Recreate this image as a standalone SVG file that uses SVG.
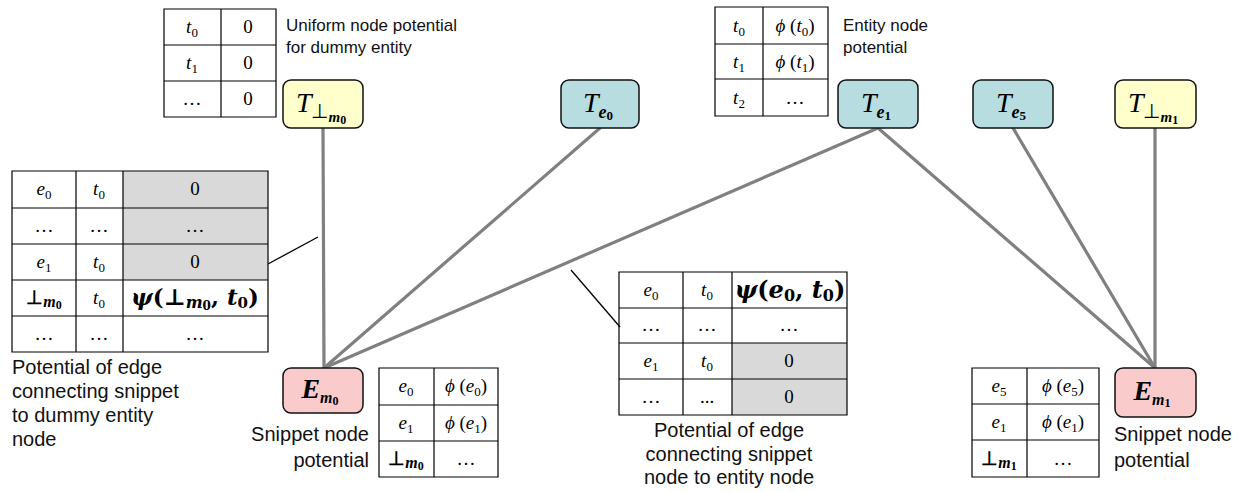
<svg xmlns="http://www.w3.org/2000/svg" width="1250" height="492" viewBox="0 0 1250 492">
<style>
.node{stroke:#111;stroke-width:1.5}
.yel{fill:#FFFFCC}.tea{fill:#B7DDE1}.pin{fill:#F9CBCB}
.grid{fill:none;stroke:#000;stroke-width:1.2}
.gray{fill:#D9D9D9;stroke:none}
.m{font-family:"Liberation Serif",serif;font-size:19px;text-anchor:middle}
.i{font-style:italic}
.b{font-weight:bold}
.psi{font-family:"DejaVu Serif",serif;font-weight:bold;font-style:italic;text-anchor:middle}
.nl{font-family:"Liberation Serif",serif;font-size:28px;font-style:italic;text-anchor:middle}
.lab{font-family:"Liberation Sans",Arial,sans-serif;font-size:17px;fill:#111}
.lab2{font-family:"Liberation Sans",Arial,sans-serif;font-size:20px;fill:#111}
.edge{stroke:#808080;stroke-width:3.2;fill:none;stroke-linecap:round}
.ptr{stroke:#000;stroke-width:1.3}
</style>

<g id="connectors">
<line class="edge" x1="323" y1="128" x2="324" y2="368"/>
<line class="edge" x1="600" y1="128" x2="324" y2="368"/>
<line class="edge" x1="878" y1="128" x2="324" y2="368"/>
<line class="edge" x1="878" y1="128" x2="1155" y2="368"/>
<line class="edge" x1="1013" y1="128" x2="1155" y2="368"/>
<line class="edge" x1="1155" y1="128" x2="1155" y2="368"/>
<line class="ptr" x1="268" y1="264" x2="318" y2="237"/>
<line class="ptr" x1="571" y1="270" x2="620" y2="327"/>
</g>

<g id="node-T-bot-m0">
<rect class="node yel" x="283" y="80" width="80" height="48" rx="8"/>
<text class="nl" x="321" y="112">T<tspan font-style="normal" font-size="20" dy="6">⊥</tspan><tspan font-size="15" font-weight="bold" dy="4">m</tspan><tspan font-size="12" font-weight="bold" font-style="normal" dy="2">0</tspan></text>
</g>
<g id="node-T-e0">
<rect class="node tea" x="561" y="80" width="78" height="48" rx="8"/>
<text class="nl" x="598" y="112">T<tspan font-size="18" font-weight="bold" dy="6">e</tspan><tspan font-size="13" font-weight="bold" font-style="normal" dy="2">0</tspan></text>
</g>
<g id="node-T-e1">
<rect class="node tea" x="838" y="80" width="80" height="48" rx="8"/>
<text class="nl" x="876" y="112">T<tspan font-size="18" font-weight="bold" dy="6">e</tspan><tspan font-size="13" font-weight="bold" font-style="normal" dy="2">1</tspan></text>
</g>
<g id="node-T-e5">
<rect class="node tea" x="973" y="80" width="80" height="48" rx="8"/>
<text class="nl" x="1011" y="112">T<tspan font-size="18" font-weight="bold" dy="6">e</tspan><tspan font-size="13" font-weight="bold" font-style="normal" dy="2">5</tspan></text>
</g>
<g id="node-T-bot-m1">
<rect class="node yel" x="1115" y="80" width="81" height="48" rx="8"/>
<text class="nl" x="1153" y="112">T<tspan font-style="normal" font-size="20" dy="6">⊥</tspan><tspan font-size="15" font-weight="bold" dy="4">m</tspan><tspan font-size="12" font-weight="bold" font-style="normal" dy="2">1</tspan></text>
</g>
<g id="node-E-m0">
<rect class="node pin" x="283" y="368" width="80" height="45" rx="8"/>
<text class="nl" x="320" y="398" font-weight="bold">E<tspan font-size="16" dy="5">m</tspan><tspan font-size="12" font-style="normal" dy="2">0</tspan></text>
</g>
<g id="node-E-m1">
<rect class="node pin" x="1115" y="368" width="81" height="49" rx="8"/>
<text class="nl" x="1152" y="400" font-weight="bold">E<tspan font-size="16" dy="5">m</tspan><tspan font-size="12" font-style="normal" dy="2">1</tspan></text>
</g>

<g id="table-uniform">
<path class="grid" d="M164 9H276V117H164Z M164 45H276 M164 81H276 M221 9V117"/>
<text class="m i" x="192" y="33">t<tspan font-style="normal" font-size="13" dy="4">0</tspan></text>
<text class="m" x="248" y="33">0</text>
<text class="m i" x="192" y="69">t<tspan font-style="normal" font-size="13" dy="4">1</tspan></text>
<text class="m" x="248" y="69">0</text>
<text class="m" x="192" y="105">…</text>
<text class="m" x="248" y="105">0</text>
<text class="lab" x="286" y="31">Uniform node potential</text>
<text class="lab" x="286" y="53">for dummy entity</text>
</g>

<g id="table-entity">
<path class="grid" d="M715 7H828V116H715Z M715 44H828 M715 79H828 M763 7V116"/>
<text class="m i" x="739" y="32">t<tspan font-style="normal" font-size="13" dy="4">0</tspan></text>
<text class="m i" x="795" y="32">ϕ<tspan font-style="normal"> (</tspan>t<tspan font-style="normal" font-size="13" dy="4">0</tspan><tspan font-style="normal" dy="-4">)</tspan></text>
<text class="m i" x="739" y="68">t<tspan font-style="normal" font-size="13" dy="4">1</tspan></text>
<text class="m i" x="795" y="68">ϕ<tspan font-style="normal"> (</tspan>t<tspan font-style="normal" font-size="13" dy="4">1</tspan><tspan font-style="normal" dy="-4">)</tspan></text>
<text class="m i" x="739" y="104">t<tspan font-style="normal" font-size="13" dy="4">2</tspan></text>
<text class="m" x="795" y="104">…</text>
<text class="lab" x="843" y="31">Entity node</text>
<text class="lab" x="843" y="53">potential</text>
</g>

<g id="table-edge-dummy">
<rect class="gray" x="123" y="171" width="145" height="109"/>
<path class="grid" d="M12 171H268V352H12Z M12 208H268 M12 244H268 M12 280H268 M12 316H268 M76 171V352 M123 171V352"/>
<text class="m i" x="44" y="195">e<tspan font-style="normal" font-size="13" dy="4">0</tspan></text>
<text class="m i" x="99" y="195">t<tspan font-style="normal" font-size="13" dy="4">0</tspan></text>
<text class="m" x="195" y="195">0</text>
<text class="m" x="44" y="232">…</text>
<text class="m" x="99" y="232">…</text>
<text class="m" x="195" y="232">…</text>
<text class="m i" x="44" y="268">e<tspan font-style="normal" font-size="13" dy="4">1</tspan></text>
<text class="m i" x="99" y="268">t<tspan font-style="normal" font-size="13" dy="4">0</tspan></text>
<text class="m" x="195" y="268">0</text>
<text class="m b" x="44" y="304" font-size="23">⊥<tspan class="i" font-size="16" dy="3">m</tspan><tspan font-size="12" dy="2">0</tspan></text>
<text class="m i" x="99" y="304">t<tspan font-style="normal" font-size="13" dy="4">0</tspan></text>
<text class="psi" x="195" y="305" font-size="23">ψ<tspan font-style="normal">(⊥</tspan><tspan font-size="16" dy="3">m</tspan><tspan font-style="normal" font-size="12" dy="2">0</tspan><tspan font-style="normal" dy="-5">, </tspan>t<tspan font-style="normal" font-size="15" dy="3">0</tspan><tspan font-style="normal" dy="-3">)</tspan></text>
<text class="m" x="44" y="340">…</text>
<text class="m" x="99" y="340">…</text>
<text class="m" x="195" y="340">…</text>
<text class="lab2" x="12" y="374">Potential of edge</text>
<text class="lab2" x="12" y="398">connecting snippet</text>
<text class="lab2" x="12" y="422">to dummy entity</text>
<text class="lab2" x="12" y="446">node</text>
</g>

<g id="table-snippet-m0">
<path class="grid" d="M379 368H498V477H379Z M379 405H498 M379 441H498 M434 368V477"/>
<text class="m i" x="406" y="392">e<tspan font-style="normal" font-size="13" dy="4">0</tspan></text>
<text class="m i" x="466" y="392">ϕ<tspan font-style="normal"> (</tspan>e<tspan font-style="normal" font-size="13" dy="4">0</tspan><tspan font-style="normal" dy="-4">)</tspan></text>
<text class="m i" x="406" y="429">e<tspan font-style="normal" font-size="13" dy="4">1</tspan></text>
<text class="m i" x="466" y="429">ϕ<tspan font-style="normal"> (</tspan>e<tspan font-style="normal" font-size="13" dy="4">1</tspan><tspan font-style="normal" dy="-4">)</tspan></text>
<text class="m b" x="406" y="465" font-size="23">⊥<tspan class="i" font-size="16" dy="3">m</tspan><tspan font-size="12" dy="2">0</tspan></text>
<text class="m" x="466" y="465">…</text>
<text class="lab2" x="369" y="441" text-anchor="end">Snippet node</text>
<text class="lab2" x="369" y="467" text-anchor="end">potential</text>
</g>

<g id="table-edge-entity">
<rect class="gray" x="732" y="343" width="115" height="72"/>
<path class="grid" d="M619 272H847V415H619Z M619 308H847 M619 343H847 M619 379H847 M683 272V415 M732 272V415"/>
<text class="m i" x="651" y="296">e<tspan font-style="normal" font-size="13" dy="4">0</tspan></text>
<text class="m i" x="707" y="296">t<tspan font-style="normal" font-size="13" dy="4">0</tspan></text>
<text class="psi" x="790" y="298" font-size="24">ψ<tspan font-style="normal">(</tspan>e<tspan font-style="normal" font-size="16" dy="3">0</tspan><tspan font-style="normal" dy="-3">, </tspan>t<tspan font-style="normal" font-size="16" dy="3">0</tspan><tspan font-style="normal" dy="-3">)</tspan></text>
<text class="m" x="651" y="331">…</text>
<text class="m" x="707" y="331">…</text>
<text class="m" x="789" y="331">…</text>
<text class="m i" x="651" y="367">e<tspan font-style="normal" font-size="13" dy="4">1</tspan></text>
<text class="m i" x="707" y="367">t<tspan font-style="normal" font-size="13" dy="4">0</tspan></text>
<text class="m" x="789" y="367">0</text>
<text class="m" x="651" y="403">…</text>
<text class="m" x="707" y="403">...</text>
<text class="m" x="789" y="403">0</text>
<text class="lab2" x="729" y="437" text-anchor="middle">Potential of edge</text>
<text class="lab2" x="729" y="461" text-anchor="middle">connecting snippet</text>
<text class="lab2" x="729" y="484" text-anchor="middle">node to entity node</text>
</g>

<g id="table-snippet-m1">
<path class="grid" d="M972 368H1099V477H972Z M972 404H1099 M972 440H1099 M1027 368V477"/>
<text class="m i" x="999" y="392">e<tspan font-style="normal" font-size="13" dy="4">5</tspan></text>
<text class="m i" x="1063" y="392">ϕ<tspan font-style="normal"> (</tspan>e<tspan font-style="normal" font-size="13" dy="4">5</tspan><tspan font-style="normal" dy="-4">)</tspan></text>
<text class="m i" x="999" y="428">e<tspan font-style="normal" font-size="13" dy="4">1</tspan></text>
<text class="m i" x="1063" y="428">ϕ<tspan font-style="normal"> (</tspan>e<tspan font-style="normal" font-size="13" dy="4">1</tspan><tspan font-style="normal" dy="-4">)</tspan></text>
<text class="m b" x="999" y="465" font-size="23">⊥<tspan class="i" font-size="16" dy="3">m</tspan><tspan font-size="12" dy="2">1</tspan></text>
<text class="m" x="1063" y="465">…</text>
<text class="lab2" x="1114" y="441">Snippet node</text>
<text class="lab2" x="1114" y="467">potential</text>
</g>
</svg>
